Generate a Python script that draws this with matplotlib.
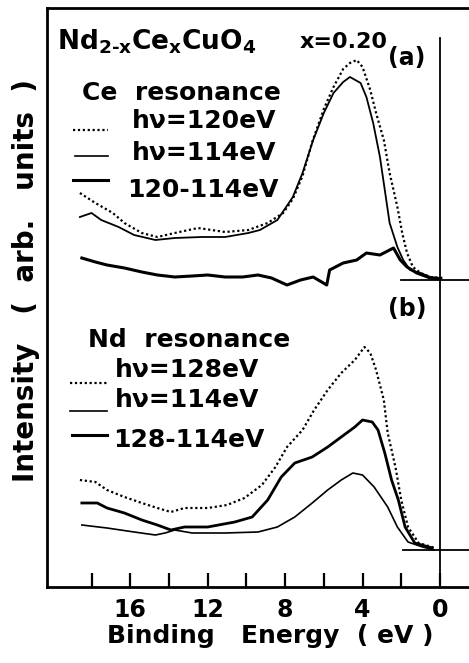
import matplotlib
matplotlib.use("Agg")
import matplotlib.pyplot as plt

plt.rcParams['font.family'] = ['DejaVu Sans']
plt.rcParams['font.weight'] = 'bold'
plt.rcParams['mathtext.fontset'] = 'custom'
plt.rcParams['mathtext.rm'] = 'DejaVu Sans:bold'
plt.rcParams['mathtext.it'] = 'DejaVu Sans:bold'

# ---------------- data (binding energy in eV, intensity in arb. units) -------------
# Panel (a): Ce resonance
a120_x = [18.6, 17.8, 16.9, 16.3, 15.4, 14.6, 13.7, 12.5, 11.1, 9.9, 8.9, 8.1, 7.6, 7.1, 6.6, 6.0,
          5.5, 5.0, 4.65, 4.3, 4.0, 3.6, 3.3, 2.9, 2.6, 2.2, 1.95, 1.7, 1.4, 1.0, 0.5, -0.2]
a120_y = [394, 384, 374, 364, 354, 350, 354, 359, 355, 357, 364, 374, 388, 411, 445, 478,
          500, 518, 524, 527, 520, 497, 474, 447, 414, 380, 354, 334, 320, 314, 310, 309]
a114_x = [18.6, 18.0, 17.5, 16.6, 15.8, 14.7, 13.7, 12.3, 11.1, 9.9, 9.3, 8.4, 7.6, 7.1, 6.55, 6.0,
          5.5, 5.0, 4.65, 4.1, 3.8, 3.45, 3.1, 2.85, 2.6, 2.2, 1.9, 1.55, 1.0, 0.5, 0.0]
a114_y = [370, 374, 367, 360, 352, 347, 349, 350, 350, 354, 357, 367, 390, 414, 447, 474,
          494, 505, 510, 504, 490, 464, 430, 397, 364, 340, 327, 317, 314, 310, 309]
adiff_x = [18.5, 17.8, 17.2, 16.3, 15.4, 14.6, 13.7, 12.8, 12.0, 11.1, 10.2, 9.4, 8.7, 7.9, 7.2,
           6.55, 5.85, 5.7, 5.0, 4.3, 3.8, 3.1, 2.4, 2.05, 1.7, 1.2, 0.5, 0.0]
adiff_y = [329, 325, 322, 319, 315, 312, 310, 311, 312, 310, 310, 312, 309, 302, 307,
           310, 302, 317, 324, 327, 334, 332, 339, 327, 320, 314, 309, 308]

# Panel (b): Nd resonance
b128_x = [18.6, 17.8, 17.2, 16.3, 15.4, 14.6, 13.9, 13.2, 12.0, 11.0, 10.1, 9.2, 8.5, 7.9, 7.1, 6.5,
          5.8, 5.1, 4.4, 3.9, 3.6, 3.3, 2.9, 2.7, 2.3, 2.0, 1.65, 1.1, 0.25]
b128_y = [107, 105, 97, 90, 84, 79, 75, 79, 79, 82, 89, 102, 120, 140, 157, 177,
          197, 214, 227, 240, 234, 217, 187, 154, 120, 87, 60, 44, 39]
bdiff_x = [18.5, 17.7, 17.2, 16.3, 15.4, 14.6, 13.9, 13.2, 12.0, 10.6, 9.7, 8.9, 8.2, 7.5, 6.6, 5.8,
           5.1, 4.4, 4.0, 3.5, 3.2, 2.85, 2.5, 2.15, 1.8, 1.3, 0.4]
bdiff_y = [84, 84, 79, 74, 67, 62, 57, 60, 60, 65, 70, 87, 110, 124, 130, 140,
           150, 160, 167, 165, 157, 134, 107, 87, 60, 44, 39]
b114_x = [18.5, 17.2, 15.8, 14.7, 14.2, 13.7, 12.8, 11.1, 9.4, 8.4, 7.5, 6.6, 5.8, 5.1, 4.5, 4.0,
          3.4, 2.7, 2.2, 1.65, 0.9, 0.3]
b114_y = [62, 59, 55, 52, 54, 57, 54, 54, 55, 60, 70, 84, 97, 107, 114, 112,
          100, 80, 60, 45, 40, 37]

base_a = 307
base_b = 37
xticks = [18, 16, 14, 12, 10, 8, 6, 4, 2, 0]
xticklabels = ['', '16', '', '12', '', '8', '', '4', '', '0']

# ---------------- figure ----------------
W, H = 469, 663
fig = plt.figure(figsize=(W / 100, H / 100), dpi=100)
ax = fig.add_axes([47 / W, 1 - 587 / H, 1 - 47 / W, (587 - 8) / H])
ax.set_xlim(20.3, -1.5)
ax.set_ylim(0, 579)

dotted = (0, (1, 1.2))
ax.plot(a120_x, a120_y, color='black', lw=1.6, ls=dotted)
ax.plot(a114_x, a114_y, color='black', lw=1.3)
ax.plot(adiff_x, adiff_y, color='black', lw=2.2)
ax.plot(b128_x, b128_y, color='black', lw=1.6, ls=dotted)
ax.plot(bdiff_x, bdiff_y, color='black', lw=2.0)
ax.plot(b114_x, b114_y, color='black', lw=1.2)

ax.plot([2.0, -1.5], [base_a, base_a], color='black', lw=1.3)
ax.plot([1.9, -1.5], [base_b, base_b], color='black', lw=1.3)
ax.plot([0, 0], [0, 549], color='black', lw=1.3)

ax.spines['right'].set_visible(False)
for s in ['left', 'bottom', 'top']:
    ax.spines[s].set_linewidth(2.0)
ax.set_yticks([])
ax.set_xticks(xticks)
ax.set_xticklabels(xticklabels)
ax.tick_params(axis='x', direction='in', length=10, width=1.6, pad=8, labelsize=17)


def ftext(px, py, s, size=18, ha='left', **kw):
    fig.text(px / W, 1 - py / H, s, fontsize=size, ha=ha, va='baseline', **kw)


def fline(x0, x1, py, **kw):
    fig.add_artist(plt.Line2D([x0 / W, x1 / W], [1 - py / H, 1 - py / H],
                              transform=fig.transFigure, color='black', **kw))


ftext(57, 50, r'Nd$_{\mathrm{2\text{-}x}}$Ce$_{\mathrm{x}}$CuO$_{\mathrm{4}}$', size=19)
ftext(300, 48, 'x=0.20', size=16)
ftext(388, 65, '(a)', size=17)
ftext(82, 100, 'Ce  resonance')
ftext(132, 128, 'hν=120eV')
ftext(132, 160, 'hν=114eV')
ftext(127, 197, '120-114eV')
fline(73, 108, 130, lw=1.6, ls=dotted)
fline(75, 108, 156, lw=1.2)
fline(73, 108, 180, lw=2.2)

ftext(388, 316, '(b)', size=17)
ftext(88, 347, 'Nd  resonance')
ftext(115, 377, 'hν=128eV')
ftext(115, 407, 'hν=114eV')
ftext(113, 447, '128-114eV')
fline(70, 107, 383, lw=1.6, ls=dotted)
fline(70, 107, 411, lw=1.2)
fline(72, 107, 435, lw=2.2)

fig.text(34 / W, 1 - 280 / H, 'Intensity   (  arb.   units  )', fontsize=20, rotation=90,
         ha='center', va='baseline', rotation_mode='anchor')
fig.text(270 / W, 1 - 643 / H, 'Binding   Energy  ( eV )', fontsize=18,
         ha='center', va='baseline')

fig.savefig('out.png', dpi=100)
